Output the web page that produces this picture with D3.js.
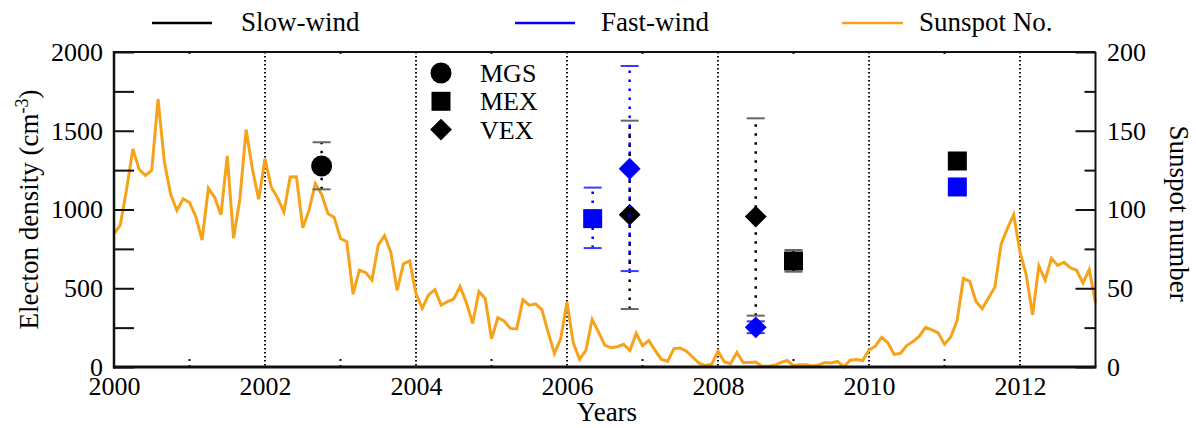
<!DOCTYPE html>
<html>
<head>
  <meta charset="utf-8">
  <title>Electron density and sunspot number</title>
  <script src="https://d3js.org/d3.v7.min.js"></script>
  <style>
    body { margin: 0; overflow: hidden; background: #fff; }
    svg { display: block; }
    text { font-family: "Liberation Serif", "DejaVu Serif", serif; fill: #000; }
  </style>
</head>
<body>
  <svg width="1196" height="428"></svg>

  <script>
    // monthly sunspot number, Dec 1999 .. Dec 2012 (first value sits on 2000.0)
    const sunspotStart = 2000;
    const sunspot = [
      84.6,
      90.1, 112.9, 138.5, 125.5, 121.6, 124.9, 170.1, 130.5, 109.7, 99.4, 106.8, 104.4,
      95.6, 80.6, 113.5, 107.7, 96.6, 134.0, 81.8, 106.4, 150.7, 125.5, 106.5, 132.2,
      114.1, 107.4, 98.4, 120.7, 120.8, 88.3, 99.6, 116.4, 109.6, 97.5, 95.0, 81.6,
      79.5, 46.2, 61.5, 60.0, 55.2, 77.4, 83.3, 72.7, 48.7, 65.5, 67.3, 46.5,
      37.3, 45.8, 49.1, 39.3, 41.5, 43.2, 51.1, 40.9, 27.7, 48.0, 43.5, 17.9,
      31.3, 29.2, 24.5, 24.2, 42.7, 39.3, 40.1, 36.4, 22.1, 8.5, 18.0, 41.2,
      15.3, 4.9, 10.6, 30.2, 22.3, 13.9, 12.2, 12.9, 14.4, 10.5, 21.4, 13.6,
      16.9, 10.6, 4.8, 3.7, 11.7, 12.0, 10.0, 6.2, 2.4, 0.9, 1.7, 10.1,
      3.4, 2.1, 9.3, 2.9, 2.9, 3.1, 0.5, 0.5, 1.1, 2.9, 4.1, 0.8,
      1.5, 1.4, 0.7, 1.2, 2.9, 2.6, 3.5, 0.0, 4.3, 4.8, 4.1, 10.8,
      13.2, 18.8, 15.4, 8.0, 8.7, 13.6, 16.1, 19.6, 25.2, 23.5, 21.6, 14.5,
      19.0, 29.4, 56.2, 54.4, 41.6, 37.0, 43.9, 50.6, 78.0, 88.0, 96.7, 73.0,
      58.3, 33.1, 64.2, 55.2, 69.0, 64.5, 66.5, 63.0, 61.4, 53.3, 61.8, 40.8
    ];

    // slow-wind measurements (black)
    const slowMission = ["MGS", "VEX", "VEX", "MEX", "MEX"];
    const slowYear    = [2002.75, 2006.83, 2008.5, 2009.0, 2011.17];
    const slowValue   = [1276, 967, 955, 673, 1308];
    const slowLow     = [1128, 368, 326, 605, 1285];
    const slowHigh    = [1427, 1564, 1579, 743, 1330];

    // fast-wind measurements (blue)
    const fastMission = ["MEX", "VEX", "VEX", "MEX"];
    const fastYear    = [2006.34, 2006.83, 2008.5, 2011.17];
    const fastValue   = [942, 1259, 252, 1143];
    const fastLow     = [755, 609, 215, 1120];
    const fastHigh    = [1139, 1911, 290, 1165];

    const gridYears = [2002, 2004, 2006, 2008, 2010, 2012];
    const minorYears = [2001, 2003, 2005, 2007, 2009, 2011];
    const yearLabels = [2000, 2002, 2004, 2006, 2008, 2010, 2012];
    const densityTicks = [0, 250, 500, 750, 1000, 1250, 1500, 1750, 2000];
    const sunspotMajor = [0, 50, 100, 150, 200];
    const sunspotMinor = [25, 75, 125, 175];

    const orange = "#f7a21b";
    const blue = "#0000ff";

    const svg = d3.select("svg");
    const L = 114, R = 1095.5, T = 52, B = 367;

    const x = d3.scaleLinear().domain([2000, 2013]).range([L, R]);
    const y = d3.scaleLinear().domain([0, 2000]).range([B, T]);
    const ys = d3.scaleLinear().domain([0, 200]).range([B, T]);

    // dotted year lines
    svg.append("g").selectAll("line").data(gridYears).join("line")
      .attr("x1", d => x(d)).attr("x2", d => x(d))
      .attr("y1", T).attr("y2", B)
      .attr("stroke", "#111").attr("stroke-width", 2)
      .attr("stroke-dasharray", "1.5,2.5");

    // small dotted ticks on odd years (top and bottom)
    svg.append("g").selectAll("line").data(minorYears).join("line")
      .attr("x1", d => x(d)).attr("x2", d => x(d))
      .attr("y1", B - 8).attr("y2", B)
      .attr("stroke", "#111").attr("stroke-width", 2)
      .attr("stroke-dasharray", "2,4");
    svg.append("g").selectAll("line").data(minorYears).join("line")
      .attr("x1", d => x(d)).attr("x2", d => x(d))
      .attr("y1", T).attr("y2", T + 6)
      .attr("stroke", "#111").attr("stroke-width", 2)
      .attr("stroke-dasharray", "2,4");

    // sunspot line
    const line = d3.line()
      .x((d, i) => x(sunspotStart + i / 12))
      .y(d => ys(d));
    svg.append("path")
      .datum(sunspot)
      .attr("d", line)
      .attr("fill", "none")
      .attr("stroke", orange)
      .attr("stroke-width", 3)
      .attr("stroke-linejoin", "miter");

    // axes
    function style(g) {
      g.select(".domain").remove();
      g.selectAll(".tick line").attr("stroke", "#111").attr("stroke-width", 2);
      g.selectAll("text")
        .style("font-family", '"Liberation Serif", serif')
        .style("font-size", "26px")
        .attr("fill", "#000");
    }

    svg.append("g")
      .attr("transform", `translate(${L},0)`)
      .call(d3.axisLeft(y).tickValues(densityTicks).tickSizeInner(-20).tickSizeOuter(0)
        .tickPadding(11).tickFormat(d => d % 500 === 0 ? d : ""))
      .call(style);

    svg.append("g")
      .attr("transform", `translate(${R},0)`)
      .call(d3.axisRight(ys).tickValues(sunspotMajor).tickSizeInner(-20).tickSizeOuter(0)
        .tickPadding(11.5))
      .call(style);
    svg.append("g")
      .attr("transform", `translate(${R},0)`)
      .call(d3.axisRight(ys).tickValues(sunspotMinor).tickSizeInner(-11).tickSizeOuter(0)
        .tickFormat(""))
      .call(style);

    svg.append("g")
      .attr("transform", `translate(0,${B})`)
      .call(d3.axisBottom(x).tickValues(yearLabels).tickSizeInner(0).tickSizeOuter(0)
        .tickPadding(10).tickFormat(d3.format("d")))
      .call(style);

    // frame
    svg.append("line").attr("x1", L).attr("x2", R).attr("y1", T).attr("y2", T)
      .attr("stroke", "#111").attr("stroke-width", 2);
    svg.append("line").attr("x1", R).attr("x2", R).attr("y1", T).attr("y2", B)
      .attr("stroke", "#111").attr("stroke-width", 2);
    svg.append("line").attr("x1", L).attr("x2", L).attr("y1", T - 1).attr("y2", B + 1.5)
      .attr("stroke", "#111").attr("stroke-width", 2.5);
    svg.append("line").attr("x1", L - 1).attr("x2", R + 1).attr("y1", B).attr("y2", B)
      .attr("stroke", "#111").attr("stroke-width", 3);

    // marker shapes
    function shapePath(kind, s) {
      if (kind === "MGS") return d3.symbol(d3.symbolCircle, Math.PI * s * s)();
      if (kind === "MEX") return `M${-s},${-s}H${s}V${s}H${-s}Z`;
      return `M0,${-s * 1.15}L${s * 1.15},0L0,${s * 1.15}L${-s * 1.15},0Z`;
    }
    const size = { MGS: 10.5, MEX: 9.5, VEX: 9.5 };

    function drawSeries(mission, year, value, low, high, color, capColor) {
      const g = svg.append("g");
      const idx = d3.range(year.length);
      g.selectAll("line.bar").data(idx).join("line")
        .attr("class", "bar")
        .attr("x1", i => x(year[i])).attr("x2", i => x(year[i]))
        .attr("y1", i => y(low[i])).attr("y2", i => y(high[i]))
        .attr("stroke", color).attr("stroke-width", 2.5)
        .attr("stroke-dasharray", "2.5,6.5");
      [low, high].forEach(arr => {
        g.selectAll(null).data(idx).join("line")
          .attr("x1", i => x(year[i]) - 9).attr("x2", i => x(year[i]) + 9)
          .attr("y1", i => y(arr[i])).attr("y2", i => y(arr[i]))
          .attr("stroke", capColor).attr("stroke-width", 2);
      });
      g.selectAll("path").data(idx).join("path")
        .attr("d", i => shapePath(mission[i], size[mission[i]]))
        .attr("transform", i => `translate(${x(year[i])},${y(value[i])})`)
        .attr("fill", color);
    }

    drawSeries(slowMission, slowYear, slowValue, slowLow, slowHigh, "#000", "#666");
    drawSeries(fastMission, fastYear, fastValue, fastLow, fastHigh, blue, "#3a3aff");

    // mission legend inside the plot
    const missions = ["MGS", "MEX", "VEX"];
    const leg = svg.append("g");
    missions.forEach((m, i) => {
      const cy = 73 + i * 28.3;
      leg.append("path")
        .attr("d", shapePath(m, size[m]))
        .attr("transform", `translate(441,${cy})`)
        .attr("fill", "#000");
      leg.append("text")
        .attr("x", 480).attr("y", cy + 9)
        .style("font-size", "26px")
        .text(m);
    });

    // top legend
    const topLegend = [
      { label: "Slow-wind", color: "#000", x1: 152, x2: 212, tx: 241 },
      { label: "Fast-wind", color: blue, x1: 515, x2: 575, tx: 601 },
      { label: "Sunspot No.", color: orange, x1: 842, x2: 903, tx: 919 }
    ];
    topLegend.forEach(d => {
      svg.append("line")
        .attr("x1", d.x1).attr("x2", d.x2).attr("y1", 23).attr("y2", 23)
        .attr("stroke", d.color).attr("stroke-width", 2.5);
      svg.append("text")
        .attr("x", d.tx).attr("y", 31)
        .style("font-size", "27px")
        .text(d.label);
    });

    // axis titles
    svg.append("text")
      .attr("transform", `translate(38,${(T + B) / 2}) rotate(-90)`)
      .attr("text-anchor", "middle")
      .style("font-size", "27px")
      .call(t => {
        t.append("tspan").text("Electon density (cm");
        t.append("tspan").attr("dy", -10).style("font-size", "18px").text("-3");
        t.append("tspan").attr("dy", 10).text(")");
      });

    svg.append("text")
      .attr("transform", `translate(1170,${(T + B) / 2 + 4}) rotate(90)`)
      .attr("text-anchor", "middle")
      .style("font-size", "27px")
      .text("Sunspot number");

    svg.append("text")
      .attr("x", 607).attr("y", 421)
      .attr("text-anchor", "middle")
      .style("font-size", "27px")
      .text("Years");
  </script>
</body>
</html>
